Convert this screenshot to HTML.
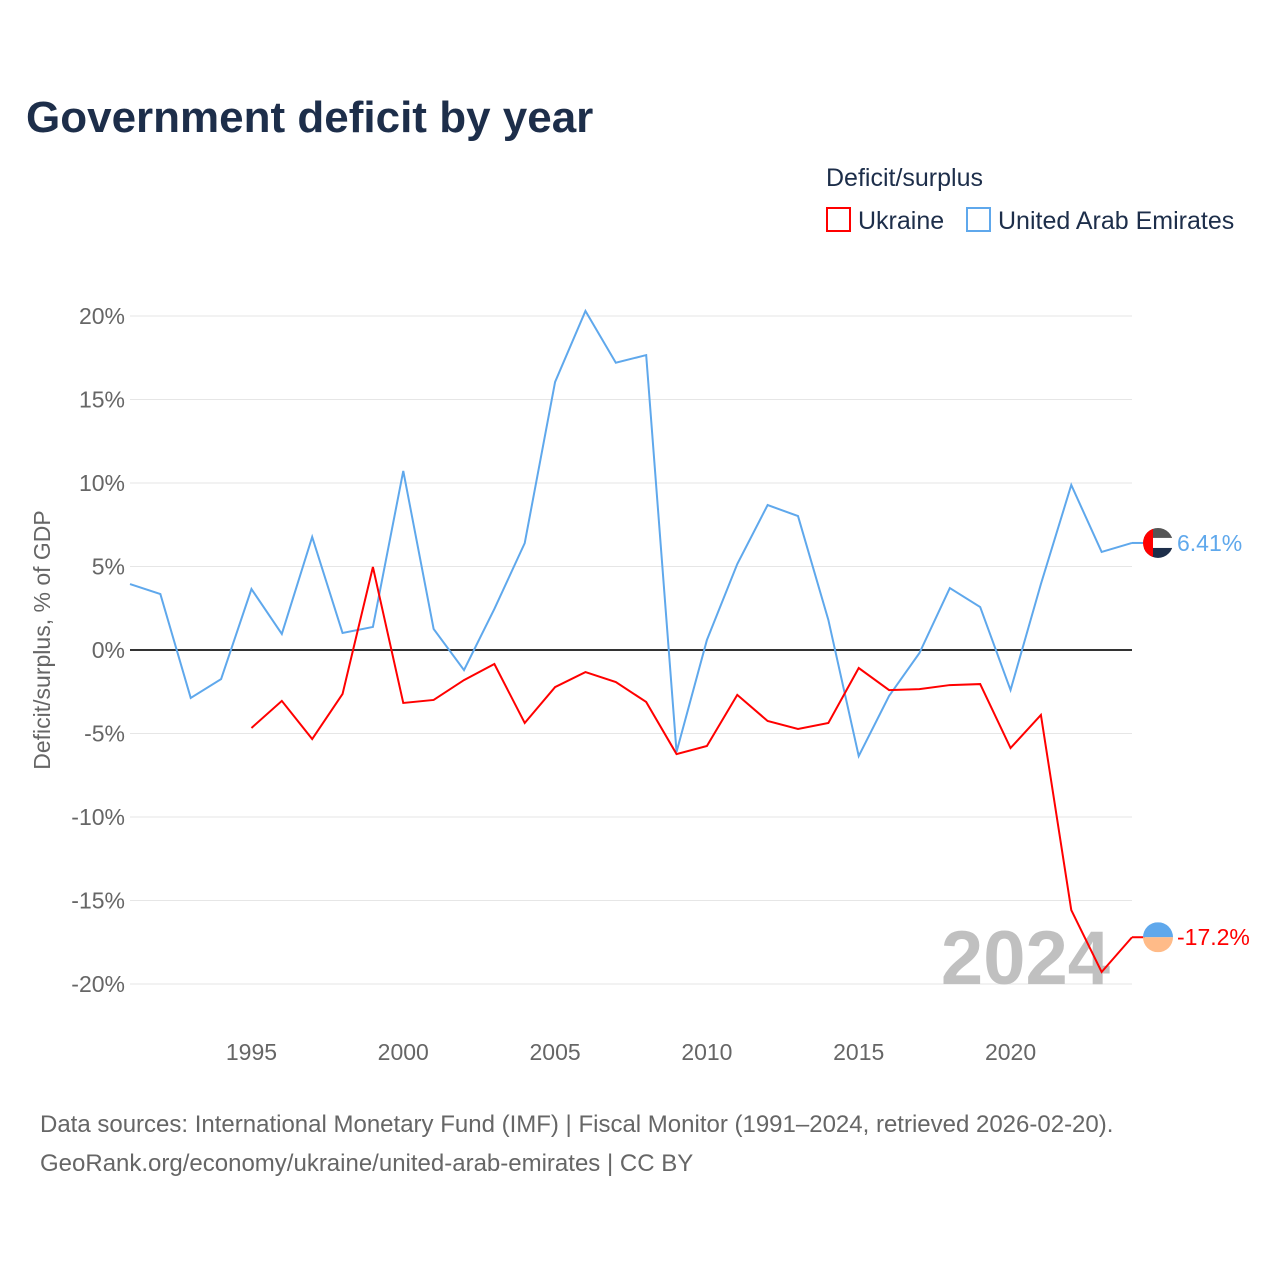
<!DOCTYPE html>
<html><head><meta charset="utf-8"><style>
body{margin:0;background:#fff;font-family:"Liberation Sans",sans-serif;}
svg text{font-family:"Liberation Sans",sans-serif;}
</style></head><body>
<svg id="c" width="1280" height="1280" viewBox="0 0 1280 1280">
<defs>
<clipPath id="cu"><circle cx="1158" cy="0" r="15"/></clipPath>
</defs>
<text x="26" y="132" font-size="44" font-weight="bold" fill="#1d2e4a">Government deficit by year</text>
<text x="826" y="186" font-size="25" fill="#1d2e4a">Deficit/surplus</text>
<g><rect x="827" y="208" width="23" height="23" fill="none" stroke="#f00" stroke-width="2"/><text x="858" y="229" font-size="25" fill="#1d2e4a">Ukraine</text></g>
<g><rect x="967" y="208" width="23" height="23" fill="none" stroke="#5fa8ec" stroke-width="2"/><text x="998" y="229" font-size="25" fill="#1d2e4a">United Arab Emirates</text></g>
<g id="grid"></g>
<text transform="translate(50,640) rotate(-90)" text-anchor="middle" font-size="23" fill="#666">Deficit/surplus, % of GDP</text>
<text x="1110" y="984" text-anchor="end" font-size="76" font-weight="bold" fill="#c0c0c0">2024</text>
<g id="series"></g>
<text x="40" y="1132" font-size="24" fill="#666">Data sources: International Monetary Fund (IMF) | Fiscal Monitor (1991–2024, retrieved 2026-02-20).</text>
<text x="40" y="1171" font-size="24" fill="#666">GeoRank.org/economy/ukraine/united-arab-emirates | CC BY</text>
</svg>
<script>
const yTicks=[20,15,10,5,0,-5,-10,-15,-20];
const xTicks=[1995,2000,2005,2010,2015,2020];
const uaeYears=[1991,1992,1993,1994,1995,1996,1997,1998,1999,2000,2001,2002,2003,2004,2005,2006,2007,2008,2009,2010,2011,2012,2013,2014,2015,2016,2017,2018,2019,2020,2021,2022,2023,2024];
const uaeValues=[3.95,3.35,-2.87,-1.74,3.65,0.96,6.77,1.02,1.38,10.72,1.26,-1.2,2.46,6.4,16.05,20.3,17.2,17.66,-6.1,0.6,5.15,8.68,8.02,1.8,-6.35,-2.75,-0.18,3.71,2.57,-2.4,3.95,9.88,5.87,6.41];
const ukrYears=[1995,1996,1997,1998,1999,2000,2001,2002,2003,2004,2005,2006,2007,2008,2009,2010,2011,2012,2013,2014,2015,2016,2017,2018,2019,2020,2021,2022,2023,2024];
const ukrValues=[-4.67,-3.05,-5.33,-2.63,4.97,-3.17,-2.99,-1.8,-0.84,-4.37,-2.22,-1.32,-1.92,-3.11,-6.23,-5.75,-2.69,-4.25,-4.73,-4.37,-1.08,-2.4,-2.34,-2.1,-2.04,-5.87,-3.89,-15.57,-19.28,-17.2];
const X=yr=>130+(yr-1991)*(1132-130)/33;
const Y=v=>650-v*16.7;
const NS="http://www.w3.org/2000/svg";
function mk(t,a,p){const e=document.createElementNS(NS,t);for(const k in a)e.setAttribute(k,a[k]);p.appendChild(e);return e;}
const g=document.getElementById('grid');
yTicks.forEach(v=>{
 const l=mk('line',{x1:130,x2:1132,y1:Y(v),y2:Y(v),stroke:v===0?'#333':'#e6e6e6','stroke-width':v===0?2:1},g);
 
 
 const t=mk('text',{x:125,y:Y(v)+8,'text-anchor':'end','font-size':23,fill:'#666'},g);
 t.textContent=v+'%';
 
 
});
xTicks.forEach(yr=>{
 const t=mk('text',{x:X(yr),y:1060,'text-anchor':'middle','font-size':23,fill:'#666'},g);
 t.textContent=yr;
 
 
});
const s=document.getElementById('series');
function line(years,vals,color,name,flag){
 const p=mk('polyline',{points:years.map((y,i)=>X(y)+','+Y(vals[i])).join(' '),fill:'none',stroke:color,'stroke-width':2},s);
 
 
 const lv=vals[vals.length-1],ly=Y(lv),lx=X(years[years.length-1]);
 mk('line',{x1:lx,x2:1145,y1:ly,y2:ly,stroke:color,'stroke-width':2},s);
 const fg=mk('g',{transform:'translate(0,'+ly+')','clip-path':'url(#cu)'},s);
 
 
 if(flag==='uae'){
  mk('rect',{x:1143,y:-15,width:30,height:10,fill:'#555'},fg);
  mk('rect',{x:1143,y:-5,width:30,height:10,fill:'#fff'},fg);
  mk('rect',{x:1143,y:5,width:30,height:10,fill:'#1d2e4a'},fg);
  mk('rect',{x:1143,y:-15,width:10,height:30,fill:'#f00'},fg);
 }else{
  mk('rect',{x:1143,y:-15,width:30,height:15,fill:'#5fa8ec'},fg);
  mk('rect',{x:1143,y:0,width:30,height:15,fill:'#ffbb88'},fg);
 }
 const t=mk('text',{x:1177,y:ly+8,'font-size':23,fill:color},s);
 t.textContent=(Math.abs(lv)>=10?lv.toFixed(1):lv.toFixed(2))+'%';
 
 
}
line(uaeYears,uaeValues,'#5fa8ec','uae-line','uae');
line(ukrYears,ukrValues,'#f00','ukraine-line','ukr');
</script>
</body></html>
